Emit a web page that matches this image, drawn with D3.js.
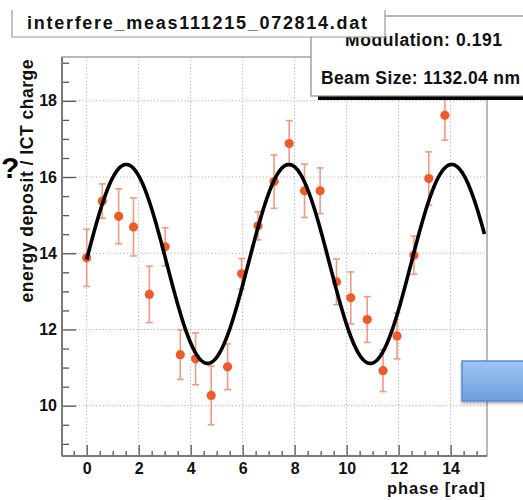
<!DOCTYPE html>
<html>
<head>
<meta charset="utf-8">
<script src="https://cdn.jsdelivr.net/npm/d3@7"></script>
<style>
  body { margin: 0; background: #fff; }
  svg { display: block; font-family: "Liberation Sans", Arial, Helvetica, sans-serif; font-weight: bold; }
</style>
</head>
<body>
<svg id="chart" width="523" height="500"></svg>
<script>
// Measured phase scan: phase [rad], energy deposit / ICT charge, and its error
const phase  = [0.00, 0.60, 1.23, 1.80, 2.41, 3.02, 3.60, 4.19, 4.79, 5.42, 5.96, 6.59,
                7.21, 7.79, 8.38, 8.98, 9.61, 10.16, 10.79, 11.40, 11.94, 12.59, 13.16, 13.78];
const signal = [13.88, 15.37, 14.97, 14.69, 12.92, 14.17, 11.34, 11.23, 10.27, 11.02, 13.46, 14.72,
                15.88, 16.88, 15.64, 15.64, 13.25, 12.83, 12.26, 10.92, 11.83, 13.95, 15.96, 17.62];
const sigErr = [0.75, 0.45, 0.72, 0.76, 0.74, 0.50, 0.65, 0.68, 0.77, 0.60, 0.40, 0.37,
                0.70, 0.60, 0.70, 0.60, 0.60, 0.68, 0.60, 0.55, 0.60, 0.50, 0.70, 0.65];

// Fitted cosine: mean + amp * cos(2*pi*(phase - peak)/period)
const fitMean = 13.72;
const fitAmp = 2.61;
const fitPeriod = 6.26;
const fitPeak = 1.52;
const fitRange = [0, 15.3];

// Axis ticks
const xMajorTicks = [0, 2, 4, 6, 8, 10, 12, 14];
const xMinorTicks = d3.range(-0.5, 15.01, 0.5).filter(v => v % 2 !== 0);
const yMajorTicks = [10, 12, 14, 16, 18];
const yMinorTicks = d3.range(9, 19.01, 0.5).filter(v => v % 2 !== 0);

const titleText = "interfere_meas111215_072814.dat";
const statLines = ["Modulation: 0.191", "Beam Size: 1132.04 nm"];
const xTitle = "phase [rad]";
const yTitle = "energy deposit / ICT charge";

const svg = d3.select("#chart");
const frame = { left: 62, right: 487, top: 57, bottom: 456 };

const x = d3.scaleLinear().domain([-0.95, 15.4]).range([frame.left, frame.right]);
const y = d3.scaleLinear().domain([8.68, 19.15]).range([frame.bottom, frame.top]);

// defs: gradient for the blue button, soft shadow
const defs = svg.append("defs");
const grad = defs.append("linearGradient").attr("id", "btnGrad")
  .attr("x1", 0).attr("y1", 0).attr("x2", 0).attr("y2", 1);
grad.append("stop").attr("offset", "0%").attr("stop-color", "#9fc5f3");
grad.append("stop").attr("offset", "100%").attr("stop-color", "#6d9fdd");
const shadow = defs.append("filter").attr("id", "softShadow")
  .attr("x", "-20%").attr("y", "-20%").attr("width", "140%").attr("height", "160%");
shadow.append("feDropShadow").attr("dx", 0).attr("dy", 2).attr("stdDeviation", 1.5)
  .attr("flood-color", "#000").attr("flood-opacity", 0.3);

// frame background
svg.append("rect")
  .attr("x", frame.left).attr("y", frame.top)
  .attr("width", frame.right - frame.left).attr("height", frame.bottom - frame.top)
  .attr("fill", "#fff").attr("stroke", "#8a8a8a").attr("stroke-width", 1.2);

// dotted grid at major ticks
const grid = svg.append("g").attr("stroke", "#b0b0b0").attr("stroke-width", 1)
  .attr("stroke-dasharray", "1.2,2.2");
grid.selectAll("line.gx").data(xMajorTicks).join("line").attr("class", "gx")
  .attr("x1", d => x(d)).attr("x2", d => x(d))
  .attr("y1", frame.top).attr("y2", frame.bottom);
grid.selectAll("line.gy").data(yMajorTicks).join("line").attr("class", "gy")
  .attr("x1", frame.left).attr("x2", frame.right)
  .attr("y1", d => y(d)).attr("y2", d => y(d));

// axes with inward ticks
function styleAxis(g) {
  g.select(".domain").remove();
  g.selectAll(".tick line").attr("stroke", "#555").attr("stroke-width", 1.3);
  g.selectAll(".tick text").attr("fill", "#111")
    .style("font-family", "'Liberation Sans', Arial, sans-serif")
    .style("font-weight", "bold").style("font-size", "16px");
}
svg.append("g").attr("transform", `translate(0,${frame.bottom})`)
  .call(d3.axisBottom(x).tickValues(xMinorTicks).tickSizeInner(-5).tickSizeOuter(0).tickFormat(""))
  .call(styleAxis);
svg.append("g").attr("transform", `translate(0,${frame.bottom})`)
  .call(d3.axisBottom(x).tickValues(xMajorTicks).tickSizeInner(-11).tickSizeOuter(0).tickPadding(7))
  .call(styleAxis);
svg.append("g").attr("transform", `translate(${frame.left},0)`)
  .call(d3.axisLeft(y).tickValues(yMinorTicks).tickSizeInner(-7).tickSizeOuter(0).tickFormat(""))
  .call(styleAxis);
svg.append("g").attr("transform", `translate(${frame.left},0)`)
  .call(d3.axisLeft(y).tickValues(yMajorTicks).tickSizeInner(-14).tickSizeOuter(0).tickPadding(5))
  .call(styleAxis);

// axis lines (left and bottom drawn heavier)
svg.append("line").attr("x1", frame.left).attr("x2", frame.left)
  .attr("y1", frame.top).attr("y2", frame.bottom).attr("stroke", "#7a7a7a").attr("stroke-width", 2);
svg.append("line").attr("x1", frame.left).attr("x2", frame.right)
  .attr("y1", frame.bottom).attr("y2", frame.bottom).attr("stroke", "#7a7a7a").attr("stroke-width", 2);

// axis titles
svg.append("text").attr("x", 485).attr("y", 494).attr("text-anchor", "end")
  .attr("font-size", 16.5).attr("fill", "#111")
  .attr("textLength", 98).attr("lengthAdjust", "spacing").text(xTitle);
svg.append("text").attr("transform", "translate(33,181) rotate(-90)")
  .attr("text-anchor", "middle").attr("font-size", 17.5).attr("fill", "#111")
  .attr("textLength", 243).attr("lengthAdjust", "spacing").text(yTitle);

// error bars
const pts = phase.map((p, i) => ({ p, v: signal[i], e: sigErr[i] }));
const eb = svg.append("g").attr("stroke", "#f19a82").attr("stroke-width", 1.6);
eb.selectAll("line.bar").data(pts).join("line").attr("class", "bar")
  .attr("x1", d => x(d.p)).attr("x2", d => x(d.p))
  .attr("y1", d => y(d.v - d.e)).attr("y2", d => y(d.v + d.e));
eb.selectAll("line.capTop").data(pts).join("line").attr("class", "capTop")
  .attr("x1", d => x(d.p) - 3.5).attr("x2", d => x(d.p) + 3.5)
  .attr("y1", d => y(d.v + d.e)).attr("y2", d => y(d.v + d.e));
eb.selectAll("line.capBot").data(pts).join("line").attr("class", "capBot")
  .attr("x1", d => x(d.p) - 3.5).attr("x2", d => x(d.p) + 3.5)
  .attr("y1", d => y(d.v - d.e)).attr("y2", d => y(d.v - d.e));

// markers
svg.append("g").selectAll("circle").data(pts).join("circle")
  .attr("cx", d => x(d.p)).attr("cy", d => y(d.v)).attr("r", 4.6)
  .attr("fill", "#ef5a2a");

// fitted curve
const fitPts = d3.range(fitRange[0], fitRange[1] + 1e-9, 0.02)
  .map(p => [p, fitMean + fitAmp * Math.cos(2 * Math.PI * (p - fitPeak) / fitPeriod)]);
svg.append("path").datum(fitPts)
  .attr("d", d3.line().x(d => x(d[0])).y(d => y(d[1])).curve(d3.curveLinear))
  .attr("fill", "none").attr("stroke", "#000").attr("stroke-width", 3.6)
  .attr("stroke-linejoin", "round");

// statistics box with shadow
svg.append("rect").attr("x", 318).attr("y", 96).attr("width", 220).attr("height", 4).attr("fill", "#000");
svg.append("rect").attr("x", 311).attr("y", 16).attr("width", 230).attr("height", 80)
  .attr("fill", "#fff").attr("stroke", "#8a8a8a").attr("stroke-width", 1.2);
svg.append("text").attr("x", 345).attr("y", 46).attr("font-size", 17.5).attr("fill", "#111")
  .attr("textLength", 157).attr("lengthAdjust", "spacing").text(statLines[0]);
svg.append("text").attr("x", 321).attr("y", 84).attr("font-size", 17.5).attr("fill", "#111")
  .attr("textLength", 199).attr("lengthAdjust", "spacing").text(statLines[1]);

// title box (drawn over the statistics box)
svg.append("rect").attr("x", 12).attr("y", 8).attr("width", 373).attr("height", 29).attr("fill", "#fff");
svg.append("path").attr("d", "M12,10 V37 H385 V10")
  .attr("fill", "none").attr("stroke", "#999").attr("stroke-width", 1.2);
svg.append("text").attr("x", 27).attr("y", 29).attr("font-size", 18).attr("fill", "#111")
  .attr("textLength", 340).attr("lengthAdjust", "spacing").text(titleText);

// blue button at lower right
svg.append("rect").attr("x", 462).attr("y", 361).attr("width", 80).attr("height", 40)
  .attr("fill", "url(#btnGrad)").attr("stroke", "#5b8bcf").attr("stroke-width", 1.5)
  .attr("filter", "url(#softShadow)");

// question mark at left edge
svg.append("text").attr("x", 1).attr("y", 178).attr("font-size", 30).attr("fill", "#000").text("?");
</script>
</body>
</html>
